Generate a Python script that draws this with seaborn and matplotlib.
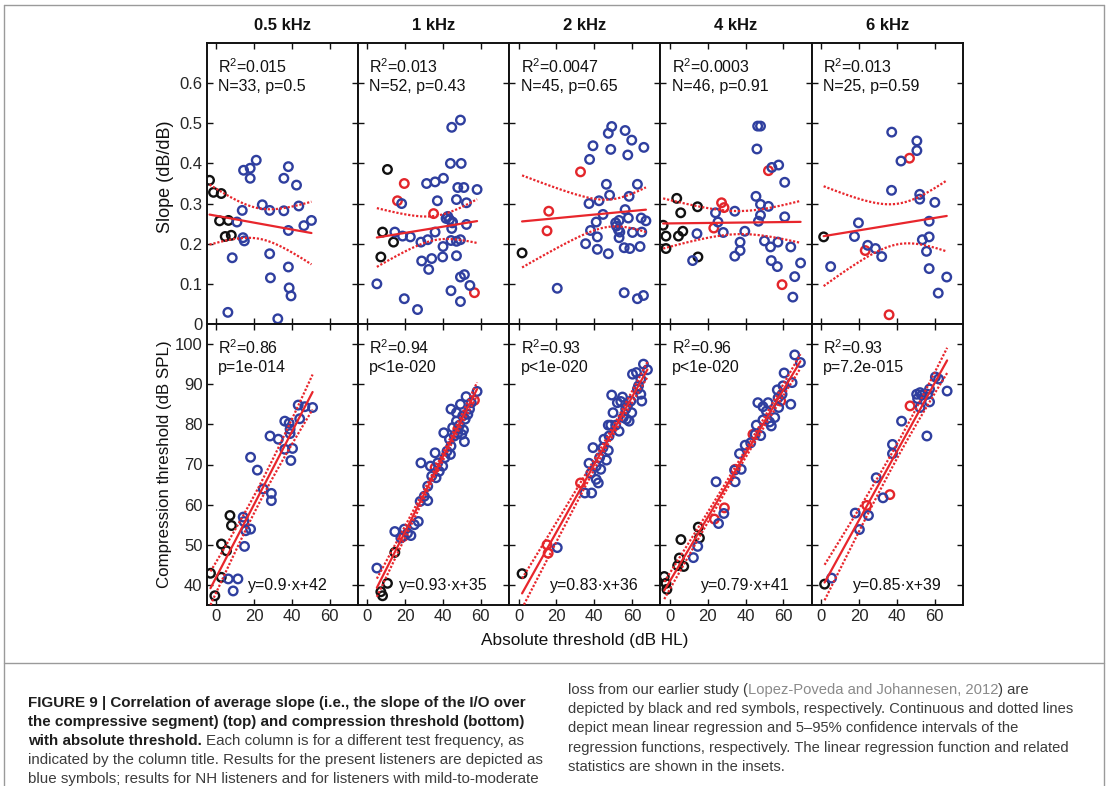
import numpy as np
import pandas as pd
import matplotlib
matplotlib.use("Agg")
import matplotlib.pyplot as plt
import seaborn as sns

# ---------------- data ----------------
freqs = ["0.5 kHz", "1 kHz", "2 kHz", "4 kHz", "6 kHz"]

# Top row: slope (dB/dB) vs absolute threshold (dB HL)
slope_05_black = [(-3.5, 0.358), (-1.4, 0.328), (2.7, 0.325), (1.8, 0.257), (6.5, 0.258), (4.8, 0.218), (8.0, 0.221)]
slope_05_red = []
slope_05_blue = [(6.2, 0.029), (8.5, 0.165), (11.0, 0.254), (13.8, 0.283), (14.2, 0.215), (14.9, 0.207), (14.5, 0.383),
                 (18.0, 0.388), (18.0, 0.363), (21.2, 0.408), (24.4, 0.297), (28.3, 0.283), (28.3, 0.175), (28.7, 0.115),
                 (32.6, 0.013), (35.8, 0.363), (35.8, 0.282), (38.2, 0.392), (38.2, 0.233), (38.2, 0.142), (38.6, 0.090),
                 (39.6, 0.070), (42.5, 0.346), (43.7, 0.294), (46.4, 0.245), (50.4, 0.258)]

slope_1k_black = [(10.6, 0.385), (8.0, 0.229), (13.8, 0.204), (7.1, 0.167)]
slope_1k_red = [(19.5, 0.350), (15.9, 0.307), (35.0, 0.275), (56.6, 0.078)]
slope_1k_blue = [(5.0, 0.100), (14.5, 0.229), (18.1, 0.300), (18.6, 0.219), (22.7, 0.217), (19.5, 0.063), (26.5, 0.036),
                 (28.3, 0.204), (28.7, 0.157), (31.3, 0.350), (31.9, 0.210), (32.4, 0.136), (34.0, 0.163), (35.8, 0.354),
                 (37.0, 0.307), (35.8, 0.229), (40.2, 0.363), (40.0, 0.193), (39.8, 0.167), (42.5, 0.268), (43.4, 0.260),
                 (44.9, 0.252), (44.6, 0.490), (49.2, 0.508), (43.9, 0.400), (49.6, 0.400), (44.2, 0.208), (44.6, 0.238),
                 (44.2, 0.083), (47.1, 0.310), (47.8, 0.340), (47.1, 0.206), (47.1, 0.170), (49.2, 0.210), (51.0, 0.340),
                 (52.4, 0.302), (52.4, 0.248), (49.2, 0.117), (51.3, 0.123), (49.2, 0.056), (54.2, 0.096), (58.0, 0.335),
                 (41.6, 0.263), (45.0, 0.254)]

slope_2k_black = [(1.8, 0.177)]
slope_2k_red = [(32.7, 0.379), (15.9, 0.281), (15.0, 0.232)]
slope_2k_blue = [(20.4, 0.089), (35.4, 0.200), (37.2, 0.300), (37.5, 0.410), (39.3, 0.444), (38.0, 0.233), (41.6, 0.217),
                 (41.6, 0.186), (41.0, 0.254), (42.5, 0.307), (44.6, 0.273), (46.4, 0.348), (47.4, 0.175), (48.1, 0.321),
                 (47.4, 0.475), (49.2, 0.492), (48.7, 0.435), (51.3, 0.252), (51.7, 0.244), (53.1, 0.258), (52.7, 0.235),
                 (53.1, 0.215), (53.5, 0.229), (56.3, 0.482), (56.3, 0.285), (55.8, 0.190), (57.7, 0.421), (58.0, 0.264),
                 (58.4, 0.318), (58.8, 0.188), (59.8, 0.458), (60.2, 0.228), (62.8, 0.348), (64.2, 0.193), (64.8, 0.264),
                 (65.1, 0.229), (66.2, 0.440), (67.3, 0.257), (55.8, 0.078), (62.8, 0.063), (66.0, 0.071)]

slope_4k_black = [(-3.6, 0.246), (-2.1, 0.219), (-2.1, 0.188), (3.6, 0.313), (5.7, 0.277), (4.5, 0.219), (6.8, 0.231),
                  (14.6, 0.292), (14.8, 0.167)]
slope_4k_red = [(27.3, 0.302), (28.6, 0.290), (23.2, 0.239), (52.1, 0.382), (59.3, 0.098)]
slope_4k_blue = [(12.0, 0.158), (14.3, 0.225), (24.1, 0.277), (25.4, 0.254), (28.2, 0.228), (34.3, 0.281), (39.6, 0.231),
                 (37.1, 0.204), (37.1, 0.183), (34.3, 0.169), (46.4, 0.493), (47.9, 0.493), (46.0, 0.436), (45.5, 0.318),
                 (47.9, 0.298), (52.1, 0.293), (47.9, 0.271), (46.8, 0.256), (50.0, 0.207), (53.2, 0.192), (57.1, 0.204),
                 (53.6, 0.158), (56.8, 0.143), (57.5, 0.396), (53.9, 0.390), (60.7, 0.353), (60.7, 0.267), (63.9, 0.192),
                 (69.1, 0.152), (66.0, 0.118), (65.0, 0.067)]

slope_6k_black = [(1.3, 0.217)]
slope_6k_red = [(46.7, 0.413), (23.3, 0.183), (35.9, 0.023)]
slope_6k_blue = [(5.0, 0.143), (17.6, 0.218), (19.7, 0.252), (24.6, 0.196), (28.7, 0.188), (32.0, 0.168), (37.3, 0.478),
                 (37.2, 0.333), (42.2, 0.406), (50.6, 0.456), (50.6, 0.432), (52.1, 0.323), (52.1, 0.311), (60.1, 0.303),
                 (57.1, 0.256), (53.5, 0.210), (57.1, 0.217), (55.7, 0.181), (57.1, 0.138), (66.4, 0.117), (61.9, 0.077)]

# Bottom row: compression threshold (dB SPL) vs absolute threshold (dB HL)
ct_05_black = [(-3.0, 42.9), (-0.7, 37.3), (2.7, 41.9), (2.8, 50.2), (5.5, 48.5), (7.3, 57.3), (8.1, 54.8)]
ct_05_red = []
ct_05_blue = [(6.4, 41.5), (11.5, 41.5), (9.0, 38.5), (14.3, 56.9), (14.7, 55.8), (15.6, 53.5), (15.0, 49.6), (18.2, 53.9),
              (18.2, 71.8), (21.8, 68.6), (24.9, 63.9), (29.2, 62.8), (29.2, 61.0), (28.5, 77.1), (32.9, 76.3), (36.3, 80.8),
              (36.3, 73.8), (38.6, 80.3), (39.1, 78.8), (39.1, 77.7), (39.5, 71.0), (40.4, 74.0), (43.4, 84.8), (44.2, 81.4),
              (46.9, 84.4), (51.0, 84.2)]

ct_1k_black = [(7.1, 38.3), (8.0, 37.3), (10.6, 40.4), (14.5, 48.1)]
ct_1k_red = [(56.6, 86.0), (35.8, 69.2), (19.1, 52.1), (47.8, 78.8)]
ct_1k_blue = [(5.0, 44.2), (14.5, 53.3), (19.5, 53.9), (17.7, 51.7), (23.0, 52.3), (26.9, 55.8), (27.9, 60.8), (31.9, 61.0),
              (28.3, 70.4), (31.9, 64.6), (33.3, 69.6), (36.3, 66.7), (35.8, 72.9), (39.8, 69.6), (40.4, 77.9), (43.9, 72.5),
              (44.2, 74.6), (44.2, 83.8), (45.1, 79.2), (47.1, 82.9), (47.8, 77.8), (49.2, 85.0), (48.7, 79.8), (51.3, 75.7),
              (50.8, 78.6), (51.7, 81.3), (52.2, 86.9), (54.0, 83.8), (58.0, 88.2), (30.1, 62.1), (38.0, 68.3), (42.1, 73.3),
              (46.0, 77.1), (50.4, 82.1), (49.9, 77.5), (21.2, 52.9), (24.8, 55.0), (34.0, 67.1), (37.2, 70.4), (41.0, 71.7),
              (47.1, 80.8), (54.9, 85.4), (53.1, 82.5), (43.4, 76.3)]

ct_2k_black = [(1.8, 42.8)]
ct_2k_red = [(15.0, 50.0), (15.6, 47.9), (32.7, 65.4)]
ct_2k_blue = [(20.4, 49.3), (35.0, 62.9), (38.6, 62.9), (37.2, 70.3), (38.1, 67.8), (39.3, 74.2), (41.0, 66.3), (42.1, 65.4),
              (41.0, 69.6), (42.8, 71.7), (44.6, 74.2), (46.4, 71.1), (47.4, 73.5), (47.4, 79.8), (48.7, 79.8), (49.2, 87.3),
              (47.8, 77.1), (51.3, 79.8), (53.1, 78.3), (54.0, 85.7), (55.3, 81.7), (54.9, 86.8), (57.5, 84.6), (57.0, 81.3),
              (58.4, 80.8), (59.3, 85.8), (60.2, 92.5), (62.3, 92.9), (59.8, 82.9), (62.8, 88.8), (64.6, 87.5), (65.1, 85.8),
              (63.4, 89.6), (66.0, 95.0), (68.1, 93.6), (52.2, 85.4), (49.9, 82.9), (45.1, 76.3), (43.4, 68.8), (56.6, 83.8),
              (64.6, 91.3)]

ct_4k_black = [(-3.0, 42.1), (-2.1, 40.4), (-1.6, 38.9), (5.8, 51.3), (5.0, 46.7), (4.1, 44.8), (7.3, 44.6), (15.0, 54.4),
               (15.6, 51.7)]
ct_4k_red = [(23.5, 56.4), (28.8, 59.2), (58.6, 85.8), (34.5, 68.8), (43.9, 77.5)]
ct_4k_blue = [(12.4, 46.8), (14.7, 49.6), (24.4, 65.7), (25.7, 55.3), (28.5, 57.8), (34.5, 65.7), (37.7, 68.8), (36.8, 72.7),
              (39.8, 74.8), (34.2, 68.6), (45.7, 79.8), (45.1, 77.5), (48.0, 77.2), (46.5, 85.4), (49.2, 84.4), (51.9, 85.4),
              (49.2, 81.1), (52.7, 80.6), (53.6, 79.6), (56.8, 88.6), (57.2, 86.6), (57.5, 84.2), (59.8, 89.6), (60.4, 92.8),
              (64.6, 90.4), (63.9, 85.0), (66.0, 97.3), (69.0, 95.4), (59.3, 87.5), (55.4, 81.7), (42.7, 75.4), (51.0, 83.3)]

ct_6k_black = [(1.8, 40.2)]
ct_6k_red = [(47.0, 84.6), (36.3, 62.5), (24.1, 59.8)]
ct_6k_blue = [(5.5, 41.7), (18.0, 57.9), (20.2, 53.8), (25.0, 57.3), (29.1, 66.7), (32.7, 61.7), (37.7, 72.7), (37.7, 75.0),
              (42.5, 80.8), (50.5, 87.5), (51.0, 86.4), (52.3, 87.9), (52.3, 84.2), (56.3, 87.5), (57.3, 88.8), (57.3, 85.6),
              (55.9, 77.1), (60.4, 91.8), (62.1, 91.3), (66.6, 88.3), (53.2, 87.3)]

top_stats = ["R$^2$=0.015\nN=33, p=0.5", "R$^2$=0.013\nN=52, p=0.43", "R$^2$=0.0047\nN=45, p=0.65",
             "R$^2$=0.0003\nN=46, p=0.91", "R$^2$=0.013\nN=25, p=0.59"]
bottom_stats = ["R$^2$=0.86\np=1e-014", "R$^2$=0.94\np<1e-020", "R$^2$=0.93\np<1e-020",
                "R$^2$=0.96\np<1e-020", "R$^2$=0.93\np=7.2e-015"]
equations = ["y=0.9\u00b7x+42", "y=0.93\u00b7x+35", "y=0.83\u00b7x+36", "y=0.79\u00b7x+41", "y=0.85\u00b7x+39"]

slope_ticks = [0, 0.1, 0.2, 0.3, 0.4, 0.5, 0.6]
slope_ticklabels = ["0", "0.1", "0.2", "0.3", "0.4", "0.5", "0.6"]
ct_ticks = [40, 50, 60, 70, 80, 90, 100]
x_ticks = [0, 20, 40, 60]

top_sets = [(slope_05_black, slope_05_red, slope_05_blue), (slope_1k_black, slope_1k_red, slope_1k_blue),
            (slope_2k_black, slope_2k_red, slope_2k_blue), (slope_4k_black, slope_4k_red, slope_4k_blue),
            (slope_6k_black, slope_6k_red, slope_6k_blue)]
bottom_sets = [(ct_05_black, ct_05_red, ct_05_blue), (ct_1k_black, ct_1k_red, ct_1k_blue),
               (ct_2k_black, ct_2k_red, ct_2k_blue), (ct_4k_black, ct_4k_red, ct_4k_blue),
               (ct_6k_black, ct_6k_red, ct_6k_blue)]

# ---------------- style ----------------
sns.set_style("ticks")
plt.rcParams["font.family"] = ["Liberation Sans", "DejaVu Sans"]
plt.rcParams["mathtext.default"] = "regular"

BLACK = "#111111"
RED = "#e3262b"
BLUE = "#2f3f9f"
LINE_RED = "#e8262c"
W, H = 1109, 786

fig, axes = plt.subplots(2, 5, figsize=(W / 100, H / 100), dpi=100)
fig.subplots_adjust(left=206.7 / W, right=963 / W, top=1 - 43 / H, bottom=1 - 605 / H, wspace=0, hspace=0)


def t_quantile(p, df):
    # Cornish-Fisher expansion for Student t quantile
    z = {0.95: 1.6448536, 0.975: 1.9599640}[p]
    return (z + (z ** 3 + z) / (4 * df) + (5 * z ** 5 + 16 * z ** 3 + 3 * z) / (96 * df ** 2)
            + (3 * z ** 7 + 19 * z ** 5 + 17 * z ** 3 - 15 * z) / (384 * df ** 3))


def draw_panel(ax, groups, ylim):
    allx, ally = [], []
    for pts, col in zip(groups, [BLACK, RED, BLUE]):
        if not pts:
            continue
        df = pd.DataFrame(pts, columns=["x", "y"])
        allx += list(df.x)
        ally += list(df.y)
        sns.scatterplot(data=df, x="x", y="y", ax=ax, s=38, marker="o", facecolors="none",
                        edgecolor=col, linewidth=1.7, legend=False, zorder=3)
    x = np.array(allx)
    y = np.array(ally)
    n = len(x)
    b, a = np.polyfit(x, y, 1)
    xs = np.linspace(x.min(), x.max(), 120)
    yhat = a + b * xs
    s = np.sqrt(np.sum((y - (a + b * x)) ** 2) / (n - 2))
    se = s * np.sqrt(1 / n + (xs - x.mean()) ** 2 / np.sum((x - x.mean()) ** 2))
    t = t_quantile(0.975, n - 2)
    sns.lineplot(x=xs, y=yhat, ax=ax, color=LINE_RED, linewidth=1.6, estimator=None, sort=False, zorder=4)
    for sgn in (-1, 1):
        sns.lineplot(x=xs, y=yhat + sgn * t * se, ax=ax, color=LINE_RED, linewidth=1.6, linestyle=(0, (1, 0.8)),
                     estimator=None, sort=False, zorder=4)
    ax.set_xlim(-5, 75)
    ax.set_ylim(*ylim)
    ax.set_xlabel("")
    ax.set_ylabel("")
    ax.set_xticks(x_ticks)
    ax.tick_params(direction="in", length=4, width=1, top=True, right=True, labelsize=12, pad=3, color="#111")
    for sp in ax.spines.values():
        sp.set_linewidth(1.4)
        sp.set_color("#111")


for j in range(5):
    ax_t = axes[0, j]
    ax_b = axes[1, j]
    draw_panel(ax_t, top_sets[j], (0, 0.7))
    draw_panel(ax_b, bottom_sets[j], (35, 105))
    ax_t.set_yticks(slope_ticks)
    ax_b.set_yticks(ct_ticks)
    ax_t.set_xticklabels([])
    ax_b.set_xticklabels([str(v) for v in x_ticks])
    if j == 0:
        ax_t.set_yticklabels(slope_ticklabels)
    else:
        ax_t.set_yticklabels([])
        ax_b.set_yticklabels([])
    for ax, txt in ((ax_t, top_stats[j]), (ax_b, bottom_stats[j])):
        l1, l2 = txt.split("\n")
        ax.text(0.075, 1 - 24 / 280, l1, transform=ax.transAxes, ha="left", va="center", fontsize=11.5, color="#111")
        ax.text(0.075, 1 - 43 / 280, l2, transform=ax.transAxes, ha="left", va="center", fontsize=11.5, color="#111")
    ax_b.text(0.27, 0.07, equations[j], transform=ax_b.transAxes, ha="left", va="center", fontsize=11.5,
              color="#111")
    cx = (206.7 + 151.26 * (j + 0.5)) / W
    fig.text(cx, 1 - 25 / H, freqs[j], ha="center", va="center", fontsize=12, weight="bold", color="#111")

fig.text(165 / W, 1 - 177 / H, "Slope (dB/dB)", rotation=90, ha="center", va="center", fontsize=13, color="#111")
fig.text(165 / W, 1 - 464 / H, "Compression threshold (dB SPL)", rotation=90, ha="center", va="center",
         fontsize=12.2, color="#111")
fig.text(585 / W, 1 - 641 / H, "Absolute threshold (dB HL)", ha="center", va="center", fontsize=12.4, color="#111")

# ---------------- frame ----------------
frame_col = "#9a9a9a"
for (x0, y0, x1, y1) in [(4, 5, 1104, 5), (4, 5, 4, 786), (1104, 5, 1104, 786), (4, 663, 1104, 663)]:
    fig.add_artist(plt.Line2D([x0 / W, x1 / W], [1 - y0 / H, 1 - y1 / H], color=frame_col, lw=1.0,
                              transform=fig.transFigure))

# ---------------- caption ----------------
fig.canvas.draw()
rend = fig.canvas.get_renderer()
TXT = "#3c3c3c"
BOLD = "#1e1e1e"
GREY = "#8a8a8a"


def width_of(s, size, weight="normal"):
    t = fig.text(0, 0, s, fontsize=size, weight=weight)
    w = t.get_window_extent(renderer=rend).width
    t.remove()
    return w


left_lines = [
    [("FIGURE 9 | Correlation of average slope (i.e., the slope of the I/O over", "bold", BOLD)],
    [("the compressive segment) (top) and compression threshold (bottom)", "bold", BOLD)],
    [("with absolute threshold.", "bold", BOLD), (" ", "normal", TXT),
     ("Each column is for a different test frequency, as", "normal", TXT)],
    [("indicated by the column title. Results for the present listeners are depicted as", "normal", TXT)],
    [("blue symbols; results for NH listeners and for listeners with mild-to-moderate", "normal", TXT)],
]
right_lines = [
    [("loss from our earlier study (", "normal", TXT), ("Lopez-Poveda and Johannesen, 2012", "normal", GREY),
     (") are", "normal", TXT)],
    [("depicted by black and red symbols, respectively. Continuous and dotted lines", "normal", TXT)],
    [("depict mean linear regression and 5\u201395% confidence intervals of the", "normal", TXT)],
    [("regression functions, respectively. The linear regression function and related", "normal", TXT)],
    [("statistics are shown in the insets.", "normal", TXT)],
]

size_left = 10 * 519 / width_of(left_lines[3][0][0], 10)
size_right = 10 * 502 / width_of(right_lines[1][0][0], 10)


def put_line(x, y, segs, size):
    for s, wgt, col in segs:
        if s == " ":
            x += width_of("a a", size, wgt) - width_of("aa", size, wgt)
            continue
        t = fig.text(x / W, 1 - y / H, s, fontsize=size, weight=wgt, color=col, ha="left", va="center")
        x = t.get_window_extent(renderer=rend).x1


for i, segs in enumerate(left_lines):
    put_line(28, 703 + 19.1 * i, segs, size_left)
for i, segs in enumerate(right_lines):
    put_line(568, 690 + 19.2 * i, segs, size_right)

fig.savefig("out.png", dpi=100)
